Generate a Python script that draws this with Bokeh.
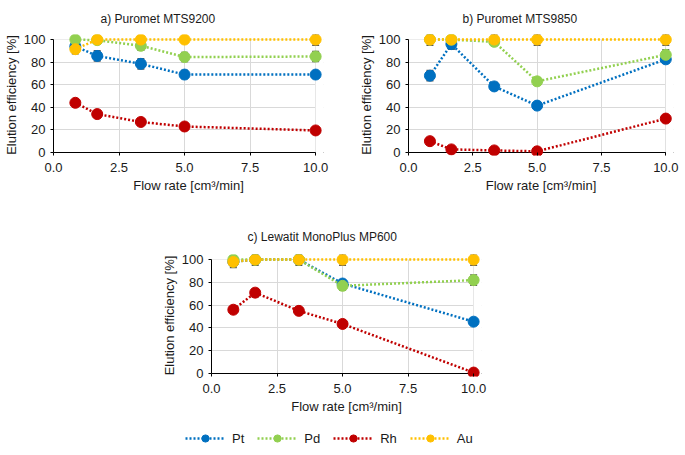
from bokeh.plotting import figure
from bokeh.models import (ColumnDataSource, Whisker, TeeHead, BoxAnnotation, Range1d,
                          FixedTicker, Legend, LegendItem, NumeralTickFormatter, Grid)
from bokeh.layouts import column, row
from bokeh.embed import file_html
from bokeh.resources import INLINE

# ---------------- data ----------------
flow_rate = [0.833, 1.667, 3.333, 5.0, 10.0]
x_ticks = [0, 2.5, 5, 7.5, 10]
y_ticks = [0, 20, 40, 60, 80, 100]
elements = ["Pt", "Pd", "Rh", "Au"]
colors = ["#0070C0", "#92D050", "#C00000", "#FFC000"]

titles = ["a) Puromet MTS9200", "b) Puromet MTS9850", "c) Lewatit MonoPlus MP600"]

a_Pt = [94, 85.5, 78.5, 69, 69]
a_Pd = [100, 99.5, 94.5, 84.5, 85]
a_Rh = [44, 34, 27, 23, 19.5]
a_Au = [91.5, 100, 100, 100, 100]
a_Pt_err = [3, 4.5, 4.5, 3.5, 2]
a_Pd_err = [1, 1, 4, 4, 4.5]
a_Rh_err = [1.5, 1.5, 1.5, 1, 1]
a_Au_err = [4, 1, 1, 1, 5]

b_Pt = [68, 96, 58.5, 41.5, 82.5]
b_Pd = [100, 100, 98, 63, 86.5]
b_Rh = [10, 2.7, 1.8, 1, 30]
b_Au = [100, 100, 100, 100, 100]
b_Pt_err = [4.5, 4.5, 3.5, 1.5, 3]
b_Pd_err = [1, 1, 3, 3, 4.5]
b_Rh_err = [1, 1, 1, 1, 1]
b_Au_err = [5, 1, 5, 5, 5]

c_Pt = [98, 100, 100, 79, 45.5]
c_Pd = [100, 100, 100, 77, 82]
c_Rh = [56, 71, 55, 43.5, 0.8]
c_Au = [98, 100, 100, 100, 100]
c_Pt_err = [3, 1, 1, 3, 1.5]
c_Pd_err = [3, 1, 1, 4, 4.5]
c_Rh_err = [1.5, 3.5, 1.5, 1.5, 1]
c_Au_err = [5, 5, 5, 5, 5]

FONT = "Liberation Sans"
TXT = "#1a1a1a"
GRID = "#D9D9D9"
ERR = "#595959"


def style_axis(ax):
    ax.axis_line_color = "black"
    ax.major_tick_line_color = "black"
    ax.major_tick_out = 3
    ax.major_tick_in = 0
    ax.minor_tick_line_color = None
    ax.major_label_text_font = FONT
    ax.major_label_text_font_size = "13px"
    ax.major_label_text_color = TXT
    ax.axis_label_text_font = FONT
    ax.axis_label_text_font_size = "13px"
    ax.axis_label_text_font_style = "normal"
    ax.axis_label_text_color = TXT


def make_panel(title, series, errors, frame_w, frame_h, y_lo, borders, title_offset, title_standoff):
    left, right, top, bottom = borders
    p = figure(frame_width=frame_w, frame_height=frame_h,
               x_range=Range1d(0, 10.3), y_range=Range1d(y_lo, 104.5),
               output_backend="svg", toolbar_location=None,
               min_border_left=left, min_border_right=right,
               min_border_top=top, min_border_bottom=bottom,
               background_fill_color="white", border_fill_color="white")
    p.outline_line_color = None
    p.title.text = title
    p.title.text_font = FONT
    p.title.text_font_size = "12px"
    p.title.text_font_style = "normal"
    p.title.text_color = TXT
    p.title.align = "left"
    p.title.offset = title_offset
    p.title.standoff = title_standoff

    # x axis: labels + ticks (ticks point up from the frame edge to y = 0)
    xa = p.xaxis[0]
    style_axis(xa)
    xa.ticker = FixedTicker(ticks=x_ticks)
    xa.formatter = NumeralTickFormatter(format="0.0")
    xa.bounds = (x_ticks[0], x_ticks[-1])
    xa.axis_line_color = None
    xa.major_tick_out = 0
    xa.major_tick_in = 3
    xa.major_label_standoff = 7
    xa.axis_label = "Flow rate [cm³/min]"
    xa.axis_label_standoff = 3

    ya = p.yaxis[0]
    style_axis(ya)
    ya.ticker = FixedTicker(ticks=y_ticks)
    ya.bounds = (y_ticks[0], y_ticks[-1])
    ya.axis_label = "Elution efficiency [%]"
    ya.major_label_standoff = 5
    ya.axis_label_standoff = 2

    p.xgrid.ticker = FixedTicker(ticks=x_ticks)
    p.ygrid.ticker = FixedTicker(ticks=y_ticks)
    p.xgrid.grid_line_color = GRID
    p.ygrid.grid_line_color = GRID

    # black axis line at y = 0
    p.add_layout(Grid(dimension=1, ticker=FixedTicker(ticks=[y_ticks[0]]),
                      grid_line_color="black", grid_line_width=1))

    # mask grid lines outside the data area
    for kw in (dict(bottom=y_ticks[-1]), dict(left=x_ticks[-1])):
        p.add_layout(BoxAnnotation(fill_color="white", fill_alpha=1, line_color=None,
                                   level="underlay", **kw))

    for vals, errs, col in zip(series, errors, colors):
        src = ColumnDataSource(dict(x=flow_rate, y=vals,
                                    upper=[v + e for v, e in zip(vals, errs)],
                                    lower=[v - e for v, e in zip(vals, errs)]))
        p.line("x", "y", source=src, line_color=col, line_width=2.5, line_dash="2 2")
        w = Whisker(source=src, base="x", upper="upper", lower="lower",
                    line_color=ERR, line_width=1.5,
                    upper_head=TeeHead(size=7, line_color=ERR, line_width=1.5),
                    lower_head=TeeHead(size=7, line_color=ERR, line_width=1.5))
        p.add_layout(w)
        p.scatter("x", "y", source=src, size=11, marker="circle",
                  fill_color=col, line_color=col)
    return p


pa = make_panel(titles[0], [a_Pt, a_Pd, a_Rh, a_Au], [a_Pt_err, a_Pd_err, a_Rh_err, a_Au_err],
                270, 121, -2.7, (48, 32, 0, 53), 47, 18)
pb = make_panel(titles[1], [b_Pt, b_Pd, b_Rh, b_Au], [b_Pt_err, b_Pd_err, b_Rh_err, b_Au_err],
                265, 121, -2.7, (48, 6, 0, 53), 54, 18)
pc = make_panel(titles[2], [c_Pt, c_Pd, c_Rh, c_Au], [c_Pt_err, c_Pd_err, c_Rh_err, c_Au_err],
                270, 122, -2.65, (211, 188, 46, 42), 36, 22)

# ---------------- legend strip ----------------
# legend renderers use the series data but the visible window lies outside it,
# so only the legend samples are shown
pl = figure(frame_width=669, frame_height=29, x_range=Range1d(-2, -1), y_range=Range1d(-2, -1),
            output_backend="svg", toolbar_location=None, x_axis_type=None, y_axis_type=None,
            min_border_left=0, min_border_right=0, min_border_top=0, min_border_bottom=0,
            background_fill_color="white", border_fill_color="white")
pl.outline_line_color = None
pl.grid.visible = False
items = []
for name, col, vals in zip(elements, colors, [a_Pt, a_Pd, a_Rh, a_Au]):
    lr = pl.line(x=flow_rate, y=vals, line_color=col, line_width=2.5, line_dash="2 2")
    sr = pl.scatter(x=flow_rate, y=vals, size=11, marker="circle", fill_color=col, line_color=col)
    items.append(LegendItem(label=name, renderers=[lr, sr]))
leg = Legend(items=items, orientation="horizontal", location=(185, 0),
             glyph_width=40, glyph_height=18, label_height=18, label_width=10,
             label_standoff=7, spacing=13, padding=0, margin=0,
             border_line_color=None, background_fill_alpha=0,
             label_text_font=FONT, label_text_font_size="13px", label_text_color=TXT)
pl.add_layout(leg, "center")

layout = column(row(pa, pb, spacing=0), pc, pl, spacing=0)

open("out.html", "w").write(file_html(layout, INLINE))
